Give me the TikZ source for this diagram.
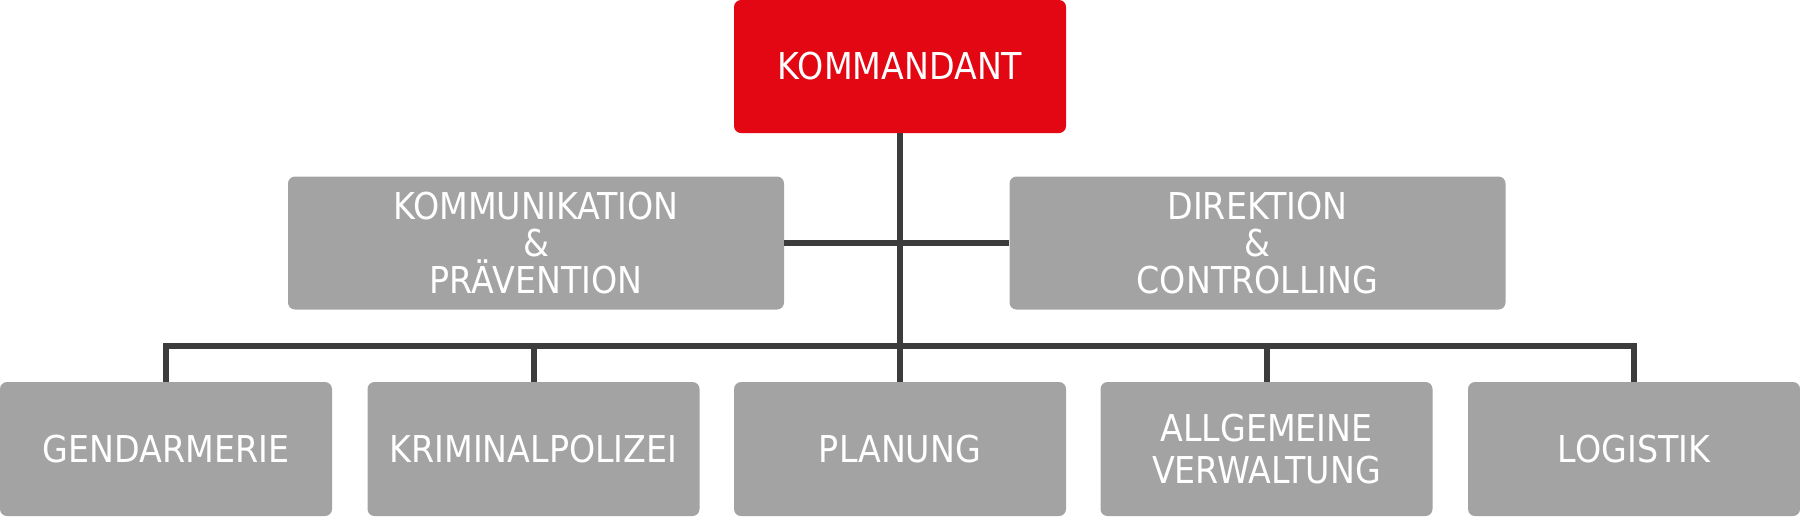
\documentclass[tikz,border=0pt]{standalone}
\usepackage{fontspec}
\setmainfont{DejaVu Sans}[FakeStretch=0.9]
\definecolor{cmdred}{HTML}{E30613}
\definecolor{boxgray}{HTML}{A3A3A3}
\definecolor{linegray}{HTML}{3C3C3C}
\begin{document}
\begin{tikzpicture}[x=0.5pt,y=-0.5pt,
  orgbox/.style={fill=boxgray,draw=none,rounded corners=3.5pt,inner sep=0pt,
    text=white,align=center,font=\fontsize{18.5pt}{18.5pt}\selectfont},
  wide/.style={minimum width=248pt,minimum height=66.5pt},
  small/.style={minimum width=166pt,minimum height=67pt,
    font=\fontsize{18.5pt}{21pt}\selectfont},
  conn/.style={draw=linegray,line width=3pt}]
\useasboundingbox (0,0) rectangle (1800,516);
\node[orgbox,fill=cmdred,minimum width=166pt,minimum height=66.5pt] (cmd) at (900,66.5) {KOMMANDANT};
\node[orgbox,wide] (kom) at (536,243) {KOMMUNIKATION\\\&\\PRÄVENTION};
\node[orgbox,wide] (dir) at (1257.5,243) {DIREKTION\\\&\\CONTROLLING};
\node[orgbox,small] (gen) at (166,449) {GENDARMERIE};
\node[orgbox,small] (kri) at (533.5,449) {KRIMINALPOLIZEI};
\node[orgbox,small] (pla) at (900,449) {PLANUNG};
\node[orgbox,small] (all) at (1266.5,449) {ALLGEMEINE\\VERWALTUNG};
\node[orgbox,small] (log) at (1634,449) {LOGISTIK};
\draw[conn] (cmd.south) -- (pla.north);
\draw[conn] (kom.east) -- (dir.west);
\coordinate (busl) at (166,346);
\coordinate (busr) at (1634,346);
\draw[conn] (gen.north) -- (busl) -- (busr) -- (log.north);
\draw[conn] (kri.north) -- (kri.north |- busl);
\draw[conn] (all.north) -- (all.north |- busl);
\end{tikzpicture}
\end{document}
